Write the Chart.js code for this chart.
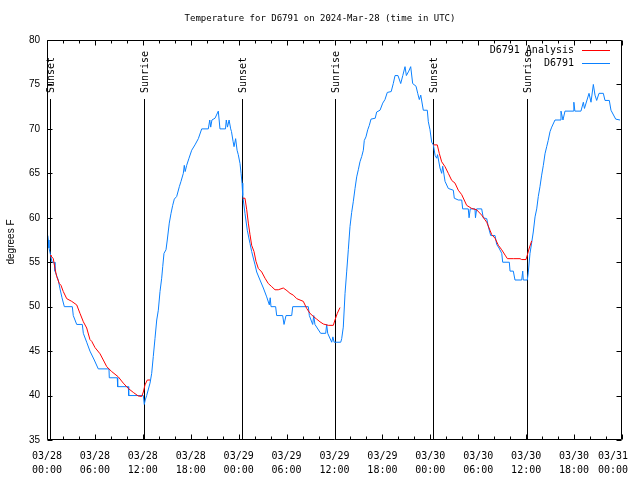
<!DOCTYPE html>
<html>
<head>
<meta charset="utf-8">
<script src="https://cdn.jsdelivr.net/npm/chart.js@4/dist/chart.umd.min.js"></script>
<style>
  body { margin: 0; background: #fff; }
</style>
</head>
<body>
<canvas id="myChart" width="640" height="480"></canvas>
<script>
// hours after 2024-03-28 00:00 UTC
const obsHours = [
  0.10, 0.16, 0.25, 0.40, 0.63, 0.90, 1.00, 1.41, 1.63, 1.88, 2.17, 3.17, 3.29, 3.72, 4.42, 4.55, 4.97, 5.38, 5.92, 6.42,
  7.76, 7.80, 8.80, 8.85, 10.18, 10.23, 12.06, 12.18, 12.30, 12.48, 12.90, 13.11, 13.31, 13.52, 13.74, 13.94, 14.15, 14.36, 14.49, 14.65,
  14.90, 15.06, 15.31, 15.53, 15.74, 15.94, 16.24, 16.57, 16.78, 17.07, 17.19, 17.30, 17.49, 17.78, 18.12, 18.53, 18.95, 19.37, 20.20, 20.38,
  20.50, 20.65, 21.04, 21.45, 21.66, 22.35, 22.45, 22.60, 22.80, 23.00, 23.10, 23.30, 23.42, 23.62, 23.80, 23.95, 24.17, 24.30, 24.42, 24.51,
  24.79, 25.08, 25.42, 25.63, 26.05, 26.26, 26.67, 27.09, 27.51, 27.84, 27.95, 28.05, 28.63, 28.76, 29.51, 29.68, 29.93, 30.64, 30.77, 32.72,
  32.85, 33.27, 33.40, 33.55, 34.27, 34.90, 35.02, 35.15, 35.65, 35.80, 35.95, 36.78, 36.90, 37.10, 37.32, 37.53, 37.73, 37.94, 38.15, 38.35,
  38.57, 38.78, 38.98, 39.19, 39.41, 39.61, 39.73, 39.94, 40.16, 40.36, 40.57, 41.10, 41.28, 41.70, 42.04, 42.32, 42.61, 43.10, 43.36, 43.58,
  43.95, 44.29, 44.55, 44.83, 45.00, 45.30, 45.54, 45.79, 46.21, 46.42, 46.62, 46.80, 47.12, 47.62, 47.75, 47.96, 48.17, 48.38, 48.60, 48.80,
  48.90, 49.21, 49.42, 49.55, 49.84, 50.25, 50.88, 51.00, 51.50, 51.93, 52.05, 52.75, 52.85, 53.00, 53.59, 53.65, 53.80, 54.43, 54.63, 55.06,
  55.26, 55.56, 56.10, 56.31, 56.60, 56.94, 57.06, 57.89, 57.98, 58.39, 58.60, 59.44, 59.57, 59.64, 60.14, 60.26, 60.48, 60.69, 60.89, 61.11,
  61.32, 61.52, 61.73, 61.94, 62.15, 62.36, 62.57, 62.76, 62.99, 63.20, 63.61, 64.24, 64.36, 64.61, 64.86, 65.90, 65.97, 66.10, 66.86, 67.16,
  67.30, 67.87, 68.12, 68.41, 68.62, 68.83, 69.12, 69.66, 69.87, 70.41, 70.62, 71.21, 71.75
];
const obsTemps = [
  58, 57.5, 56.6, 56, 55, 55, 54, 53, 52, 51, 50, 50, 49, 48, 48, 47, 46, 45, 44, 43,
  43, 42, 42, 41, 41, 40, 40, 39, 39.5, 40, 41.4, 42.5, 44.4, 46.4, 48.5, 49.6, 51.7, 53.2, 54.5, 56,
  56.4, 57.5, 59.4, 60.5, 61.4, 62.1, 62.4, 63.5, 64.1, 65, 65.9, 65.2, 65.9, 66.7, 67.6, 68.2, 68.9, 70, 70, 71,
  70.2, 71, 71.2, 72, 70, 70, 71, 70.2, 71, 70, 69.7, 68.6, 68, 68.9, 67.6, 67.1, 66.1, 65, 63.9, 62.5,
  60.5, 58.6, 57.1, 56.2, 54.7, 53.9, 53, 52.1, 51.1, 50.2, 51, 50, 50, 49, 49, 48, 49, 49, 50, 50,
  49, 48, 49, 48, 47, 47, 48, 47, 46, 46.6, 46, 46, 46.4, 47.7, 51.5, 54, 56.4, 59, 60.6, 61.8,
  63.3, 64.6, 65.4, 66.3, 66.9, 67.6, 68.7, 69.1, 69.9, 70.4, 71.1, 71.2, 71.9, 72.1, 72.9, 73.3, 74.1, 74.2, 75.1, 76,
  76, 75.1, 76, 77, 76, 76.5, 77, 75.1, 74.8, 74, 73.3, 73.8, 72.1, 72.1, 70.8, 69.9, 68.5, 68.2, 67, 66.7,
  67.1, 65.6, 65, 65.8, 64.1, 63.3, 63.1, 62.2, 62, 62, 61, 61, 60, 61, 61, 60, 61, 61, 60, 59.9,
  59, 58, 58, 57, 56.6, 56, 55, 55, 54, 54, 53, 53, 54, 53, 53, 53.8, 56, 57.2, 58.4, 60.1,
  61, 62.4, 63.5, 64.8, 65.9, 67.2, 68, 68.7, 69.7, 70.2, 71, 71, 72, 71, 72, 72, 73, 72, 72, 73,
  72.3, 74, 73, 75, 73.8, 73.2, 74, 74, 73.2, 73.2, 72.1, 71.1, 71
];

// analysis runs (overnight only); null breaks the line
const anaHours = [
  0.38, 0.50, 0.79, 1.00, 1.21, 1.54, 1.75, 2.04, 2.47, 3.09, 3.72, 4.13, 4.55, 4.97, 5.38, 5.60, 6.01, 6.64, 7.05, 7.48,
  8.10, 8.93, 9.55, 10.18, 10.81, 11.43, 11.86, 12.06, 12.27, 12.56, 12.90, 18.0,
  24.51, 24.79, 25.01, 25.21, 25.42, 25.63, 25.92, 26.17, 26.46, 26.89, 27.30, 27.71, 28.14, 28.55, 28.96, 29.59, 30.05, 30.43,
  30.84, 31.27, 31.68, 32.09, 32.52, 32.93, 33.35, 33.77, 34.18, 34.60, 35.22, 35.85, 36.06, 36.35, 36.69, 42.0,
  48.38, 48.87, 49.12, 49.42, 49.84, 50.25, 50.68, 51.09, 51.50, 51.93, 52.55, 53.18, 53.80, 54.43, 55.06, 55.47, 55.69, 56.10,
  56.52, 56.94, 57.36, 57.65, 58.39, 59.23, 59.44, 59.98, 60.14, 60.39, 60.69
];
const anaTemps = [
  55.8, 55.7, 55.4, 54.3, 53.4, 52.6, 52.4, 51.7, 50.9, 50.6, 50.2, 49.25, 48.3, 47.6, 46.3, 46.1, 45.4, 44.7, 44, 43.25,
  42.7, 42.1, 41.4, 40.8, 40.35, 39.95, 39.9, 40.4, 41.2, 41.75, 41.75, null,
  62.2, 62.2, 60.9, 59.4, 58.1, 56.9, 56.2, 55.1, 54.3, 53.9, 53.2, 52.6, 52.25, 51.9, 51.9, 52.1, 51.8, 51.5,
  51.3, 50.9, 50.75, 50.6, 49.8, 49.25, 48.9, 48.6, 48.3, 48.05, 47.9, 47.9, 48.5, 49.25, 49.9, null,
  68.2, 68.2, 67.25, 66.3, 65.75, 65, 64.2, 63.9, 63.1, 62.6, 61.4, 61.05, 60.9, 60.3, 59.5, 58.6, 58.1, 57.7,
  56.9, 56.4, 55.8, 55.4, 55.4, 55.4, 55.3, 55.3, 55.8, 56.6, 57.4
];

const sunHours = [0.41, 12.18, 24.42, 36.1, 48.38, 60.14];
const sunLabels = ["Sunset", "Sunrise", "Sunset", "Sunrise", "Sunset", "Sunrise"];

const tickDays = ["03/28", "03/28", "03/28", "03/28", "03/29", "03/29", "03/29", "03/29", "03/30", "03/30", "03/30", "03/30", "03/31"];
const tickTimes = ["00:00", "06:00", "12:00", "18:00", "00:00", "06:00", "12:00", "18:00", "00:00", "06:00", "12:00", "18:00", "00:00"];

const titleText = "Temperature for D6791 on 2024-Mar-28 (time in UTC)";
const yTitle = "degrees F";
const seriesNames = ["D6791 Analysis", "D6791"];
const seriesColors = ["#ff0000", "#0a80ff"];

const mono = "'DejaVu Sans Mono', monospace";
const sans = "'Liberation Sans', Arial, sans-serif";

const toPoints = (hs, ts) => hs.map((h, i) => ({ x: h, y: ts[i] }));

const decor = {
  id: "decor",
  beforeDatasetsDraw(chart) {
    const { ctx, chartArea: a, scales: { x } } = chart;
    ctx.save();
    ctx.strokeStyle = "#000";
    ctx.lineWidth = 1;
    ctx.fillStyle = "#000";
    ctx.font = "10px " + mono;
    sunHours.forEach((h, i) => {
      const px = Math.round(x.getPixelForValue(h)) + 0.5;
      ctx.beginPath();
      ctx.moveTo(px, a.top + 59);
      ctx.lineTo(px, a.bottom);
      ctx.stroke();
      ctx.save();
      ctx.translate(px + 1, a.top + 53);
      ctx.rotate(-Math.PI / 2);
      ctx.textAlign = "left";
      ctx.textBaseline = "middle";
      ctx.fillText(sunLabels[i], 0, 0);
      ctx.restore();
    });
    ctx.restore();
  },
  afterDraw(chart) {
    const { ctx, chartArea: a, scales: { x, y } } = chart;
    const L = Math.round(a.left) + 0.5, R = Math.round(a.right) - 0.5;
    const T = Math.round(a.top) + 0.5, B = Math.round(a.bottom) - 0.5;
    ctx.save();
    ctx.strokeStyle = "#000";
    ctx.lineWidth = 1;
    ctx.beginPath();
    ctx.rect(L, T, R - L, B - T);
    for (let v = 35; v <= 80; v += 5) {
      const py = Math.round(y.getPixelForValue(v)) + 0.5;
      ctx.moveTo(L, py); ctx.lineTo(L + 5, py);
      ctx.moveTo(R, py); ctx.lineTo(R - 5, py);
    }
    for (let h = 0; h <= 72; h += 2) {
      const px = Math.round(x.getPixelForValue(h)) + 0.5;
      const len = h % 6 === 0 ? 5 : 3;
      ctx.moveTo(px, B); ctx.lineTo(px, B - len);
      ctx.moveTo(px, T); ctx.lineTo(px, T + len);
    }
    ctx.stroke();

    ctx.fillStyle = "#000";
    ctx.font = "9px " + mono;
    ctx.textAlign = "center";
    ctx.textBaseline = "middle";
    ctx.fillText(titleText, 320, 19);

    ctx.save();
    ctx.font = "10px " + sans;
    ctx.translate(11, 242);
    ctx.rotate(-Math.PI / 2);
    ctx.fillText(yTitle, 0, 0);
    ctx.restore();

    ctx.font = "10px " + mono;
    ctx.textAlign = "right";
    seriesNames.forEach((name, i) => {
      const ly = 50 + i * 13;
      ctx.fillStyle = "#000";
      ctx.fillText(name, 574, ly);
      ctx.strokeStyle = seriesColors[i];
      ctx.beginPath();
      ctx.moveTo(582, ly + 0.5);
      ctx.lineTo(610, ly + 0.5);
      ctx.stroke();
    });
    ctx.restore();
  }
};

const data = {
  datasets: [
    {
      label: seriesNames[1],
      data: toPoints(obsHours, obsTemps),
      borderColor: seriesColors[1],
      borderWidth: 1,
      pointRadius: 0,
      order: 2,
    },
    {
      label: seriesNames[0],
      data: toPoints(anaHours, anaTemps),
      borderColor: seriesColors[0],
      borderWidth: 1,
      pointRadius: 0,
      spanGaps: false,
      order: 1,
    },
  ],
};

const lastTick = tickDays.length - 1;

const config = {
  type: "line",
  data: data,
  options: {
    responsive: false,
    animation: false,
    layout: { padding: { top: 40, right: 18, left: 0, bottom: 0 } },
    plugins: {
      legend: { display: false },
      title: { display: false },
      tooltip: { enabled: false },
    },
    scales: {
      x: {
        type: "linear",
        min: 0,
        max: 72,
        grid: { display: false, drawTicks: false },
        border: { display: false },
        ticks: {
          stepSize: 6,
          autoSkip: false,
          maxRotation: 0,
          padding: 9,
          color: "#000",
          font: { family: mono, size: 10, lineHeight: 1.45 },
          // gnuplot pulls the last label inside the border
          callback: (v, i) => i === lastTick
            ? [tickDays[i] + "   ", tickTimes[i] + "   "]
            : [tickDays[i], tickTimes[i]],
        },
        afterFit: (s) => { s.height = 40; s.paddingLeft = 0; s.paddingRight = 0; },
      },
      y: {
        min: 35,
        max: 80,
        grid: { display: false, drawTicks: false },
        border: { display: false },
        ticks: {
          stepSize: 5,
          padding: 7,
          color: "#000",
          font: { family: sans, size: 10 },
        },
        afterFit: (s) => { s.width = 47; s.paddingTop = 0; s.paddingBottom = 0; },
      },
    },
  },
  plugins: [decor],
};

const ctx = document.querySelector("#myChart").getContext("2d");
const myChart = new Chart(ctx, config);
</script>
</body>
</html>
